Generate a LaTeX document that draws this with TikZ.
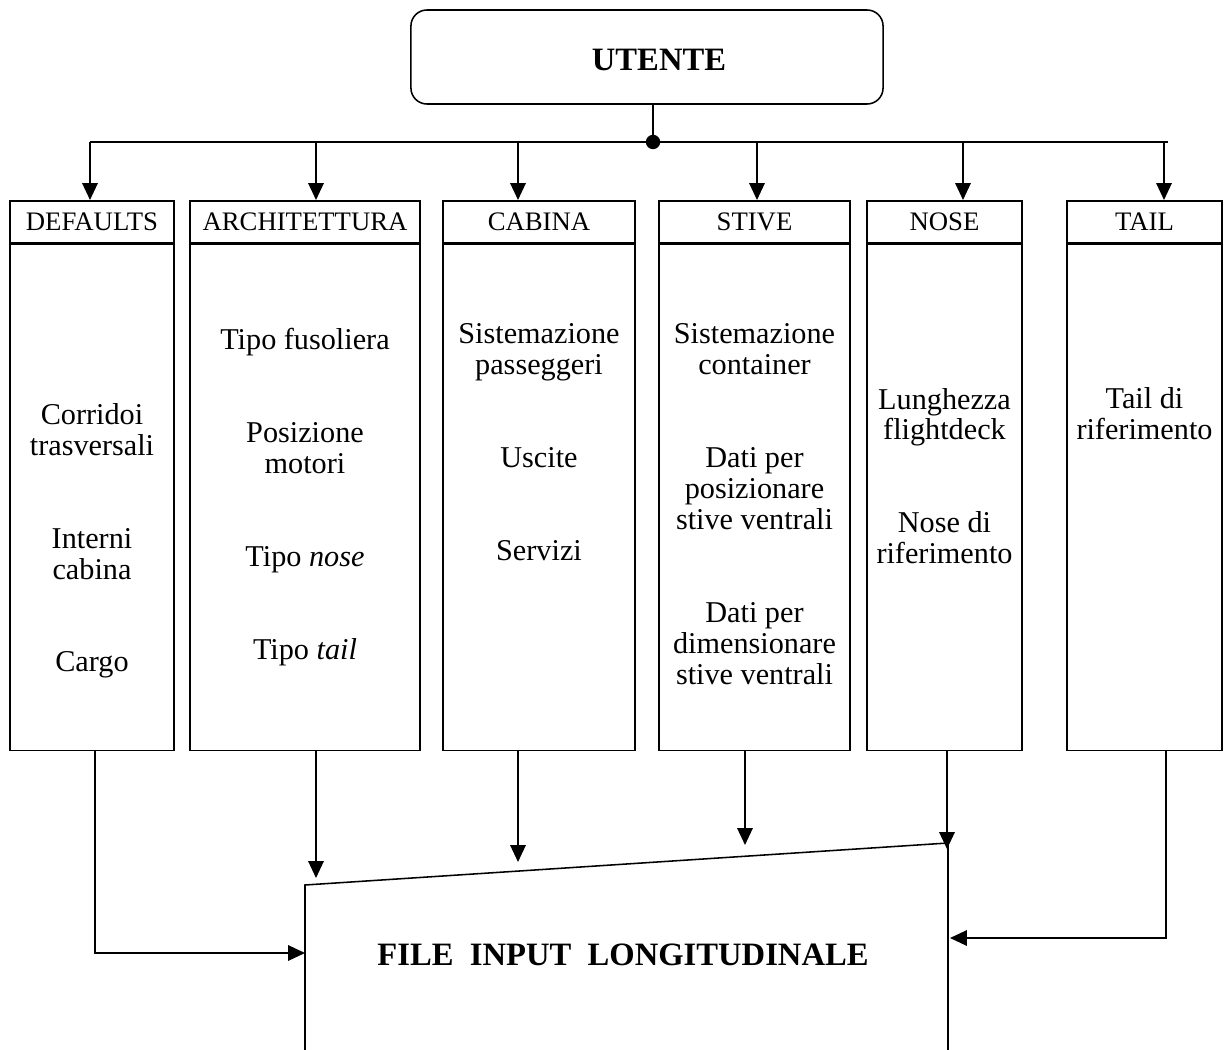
\documentclass[tikz,border=0pt]{standalone}
\usepackage{fontspec}
\setmainfont{Liberation Serif}
\usetikzlibrary{
  arrows.meta,
  positioning
}

\begin{document}
\begin{tikzpicture}[
  x=0.025cm, y=-0.025cm,
  line width=1.1pt,
  arr/.style={-{Triangle[length=12pt,width=11pt]}},
  head/.style={draw, anchor=north, minimum height=1.05cm, inner sep=0pt,
    font=\fontsize{19}{21}\selectfont},
  body/.style={draw, anchor=north, minimum height=12.65cm},
  txt/.style={align=center, font=\fontsize{21.5}{22}\selectfont},
  title/.style={font=\fontsize{23.2}{26}\selectfont\bfseries}
]
  \useasboundingbox (0,0) rectangle (1224,1050);

  % user
  \node[draw, rounded corners=0.4cm, minimum width=11.8cm, minimum height=2.35cm]
    (ut) at (647,57) {};
  \node[title] (utxt) at (659,60) {UTENTE};

  % bus
  \coordinate (hub) at (653,142);
  \coordinate (b1) at (90,142);
  \coordinate (b2) at (316,142);
  \coordinate (b3) at (518,142);
  \coordinate (b4) at (757,142);
  \coordinate (b5) at (963,142);
  \coordinate (b6) at (1164,142);
  \coordinate (bend) at (1168,142);
  \draw (ut.south -| hub) -- (hub);
  \draw (b1) -- (bend);
  \fill (hub) circle (0.18cm);

  % headers
  \node[head, minimum width=4.1cm]   (hdef)  at (92,200)    {DEFAULTS};
  \node[head, minimum width=5.75cm]  (harc)  at (305,200)   {ARCHITETTURA};
  \node[head, minimum width=4.8cm]   (hcab)  at (539,200)   {CABINA};
  \node[head, minimum width=4.775cm] (hsti)  at (754.5,200) {STIVE};
  \node[head, minimum width=3.875cm] (hnose) at (944.5,200) {NOSE};
  \node[head, minimum width=3.875cm] (htail) at (1144.5,200) {TAIL};

  % bodies
  \node[body, minimum width=4.1cm]   (bdef)  at (hdef.south)  {};
  \node[body, minimum width=5.75cm]  (barc)  at (harc.south)  {};
  \node[body, minimum width=4.8cm]   (bcab)  at (hcab.south)  {};
  \node[body, minimum width=4.775cm] (bsti)  at (hsti.south)  {};
  \node[body, minimum width=3.875cm] (bnose) at (hnose.south) {};
  \node[body, minimum width=3.875cm] (btail) at (htail.south) {};

  % contents
  \node[txt] (tdef) at (92,541)
    {Corridoi\\trasversali\\[44pt]Interni\\cabina\\[44pt]Cargo};
  \node[txt] (tarc) at (305,497)
    {Tipo fusoliera\\[44pt]Posizione\\motori\\[44pt]Tipo \textit{nose}\\[44pt]Tipo \textit{tail}};
  \node[txt] (tcab) at (539,442)
    {Sistemazione\\passeggeri\\[44pt]Uscite\\[44pt]Servizi};
  \node[txt] (tsti) at (754.5,504)
    {Sistemazione\\container\\[44pt]Dati per\\posizionare\\stive ventrali\\[44pt]Dati per\\dimensionare\\stive ventrali};
  \node[txt] (tnose) at (944.5,476)
    {Lunghezza\\flightdeck\\[44pt]Nose di\\riferimento};
  \node[txt] (ttail) at (1144.5,414)
    {Tail di\\riferimento};

  % arrows down
  \draw[arr] (b1) -- (b1 |- hdef.north);
  \draw[arr] (b2) -- (b2 |- harc.north);
  \draw[arr] (b3) -- (b3 |- hcab.north);
  \draw[arr] (b4) -- (b4 |- hsti.north);
  \draw[arr] (b5) -- (b5 |- hnose.north);
  \draw[arr] (b6) -- (b6 |- htail.north);

  % output file
  \coordinate (fl) at (305,885);
  \coordinate (fr) at (948,843);
  \draw (305,1060) -- (fl) -- (fr) -- (948,1060);
  \node[title] (fin) at (623,955) {FILE~~INPUT~~LONGITUDINALE};

  % arrows to file
  \coordinate (e1) at (305,953);
  \coordinate (e2) at (316,878);
  \coordinate (e3) at (518,862);
  \coordinate (e4) at (745,845);
  \coordinate (e5) at (947,849);
  \coordinate (e6) at (950,938);
  \draw[arr] (bdef.south -| 95,0) |- (e1);
  \draw[arr] (barc.south -| e2) -- (e2);
  \draw[arr] (bcab.south -| e3) -- (e3);
  \draw[arr] (bsti.south -| e4) -- (e4);
  \draw[arr] (bnose.south -| e5) -- (e5);
  \draw[arr] (btail.south -| 1166,0) |- (e6);

\end{tikzpicture}
\end{document}
